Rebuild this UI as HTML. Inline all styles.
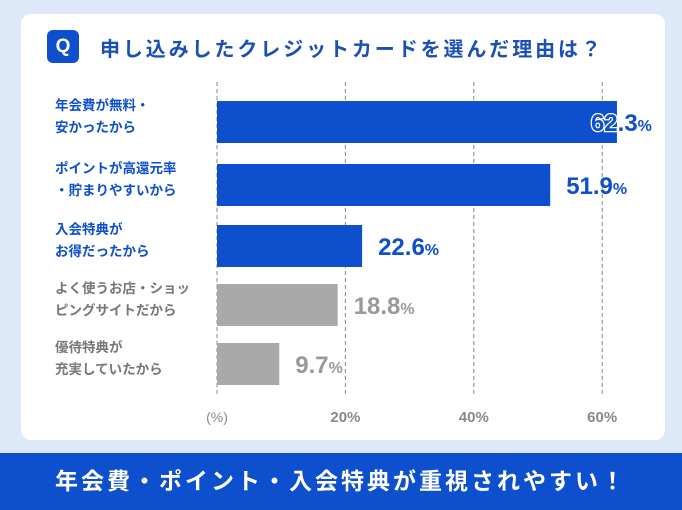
<!DOCTYPE html>
<html><head><meta charset="utf-8"><style>
body{margin:0;width:682px;height:510px;background:#dde9f8;position:relative;overflow:hidden;font-family:"Liberation Sans","Noto Sans CJK JP",sans-serif}
#card{position:absolute;left:21px;top:14px;width:644px;height:426px;background:#fff;border-radius:10px}
#q{position:absolute;left:47px;top:30px;width:32px;height:33px;background:#0d4fcc;border-radius:6px;color:#fff;font-weight:bold;font-size:19px;text-align:center;line-height:33px}
#title{position:absolute;left:100px;top:33px;font-size:20px;font-weight:bold;color:#1a4fb8;letter-spacing:2.9px;white-space:nowrap}
.lbl{position:absolute;left:55px;font-size:13.5px;font-weight:bold;line-height:22px;white-space:nowrap}
#banner{position:absolute;left:0;top:453px;width:682px;height:57px;background:#0d4fcc;color:#fff;font-weight:bold;font-size:23px;text-align:center;line-height:57px;letter-spacing:3px}
svg{position:absolute;left:0;top:0}
</style></head><body>
<div id="card"></div>
<div id="q">Q</div>
<div id="title">申し込みしたクレジットカードを選んだ理由は？</div>
<div class="lbl" style="top:95px;color:#0d4fcc">年会費が無料・<br>安かったから</div>
<div class="lbl" style="top:158px;color:#0d4fcc">ポイントが高還元率<br>・貯まりやすいから</div>
<div class="lbl" style="top:219px;color:#0d4fcc">入会特典が<br>お得だったから</div>
<div class="lbl" style="top:278px;color:#777">よく使うお店・ショッ<br>ピングサイトだから</div>
<div class="lbl" style="top:337px;color:#777">優待特典が<br>充実していたから</div>
<svg id="chart" width="682" height="510"></svg>
<div id="banner">年会費・ポイント・入会特典が重視されやすい！</div>
<script>
const values=[62.3,51.9,22.6,18.8,9.7];
const highlight=[true,true,true,false,false];
const ticks=[20,40,60];
const tickLabels=["20%","40%","60%"];
const NS="http://www.w3.org/2000/svg";
const svg=document.getElementById('chart');
const x0=217,sc=6.42;
const xs=v=>x0+v*sc;
const barTops=[101,164,225,284,343],bh=42;
function mk(t,a){const e=document.createElementNS(NS,t);for(const k in a)e.setAttribute(k,a[k]);svg.appendChild(e);return e;}
[0].concat(ticks).forEach((t,i)=>{
 const g=mk('line',{x1:xs(t),x2:xs(t),y1:82,y2:397,stroke:'#888','stroke-width':1,'stroke-dasharray':'4,3'});
 
 
});
const u=mk('text',{x:x0,y:422,'text-anchor':'middle','font-size':14,fill:'#888'});u.textContent='(%)';


ticks.forEach((t,i)=>{
 const e=mk('text',{x:xs(t),y:422,'text-anchor':'middle','font-size':15,'font-weight':'bold',fill:'#888'});
 e.textContent=tickLabels[i];
 
 
});
values.forEach((v,i)=>{
 const col=highlight[i]?'#0d4fcc':'#a9a9a9';
 const b=mk('rect',{x:x0,y:barTops[i],width:v*sc,height:bh,fill:col});
 
 
 const inside=xs(v)+17+60>650;
 const tx=inside?xs(v)-26:xs(v)+16;
 const t=mk('text',{x:tx,y:barTops[i]+bh/2+9,'font-size':24,'font-weight':'bold',fill:highlight[i]?'#0d4fcc':'#999'});
 if(inside){t.setAttribute('stroke','#fff');t.setAttribute('stroke-width','2.5');t.setAttribute('paint-order','stroke');}
 t.innerHTML=v.toFixed(1)+'<tspan font-size="16">%</tspan>';
 
 
});
</script>
</body></html>
